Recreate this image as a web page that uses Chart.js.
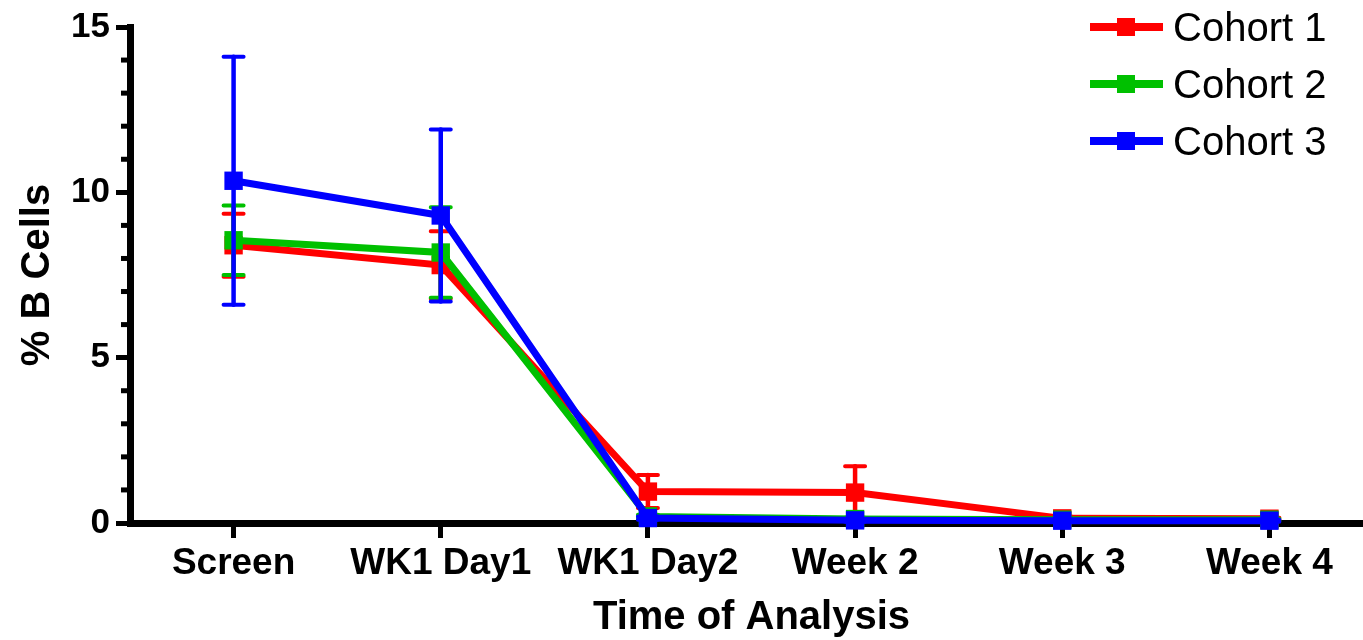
<!DOCTYPE html>
<html>
<head>
<meta charset="utf-8">
<script src="https://cdn.jsdelivr.net/npm/chart.js@4.4.1/dist/chart.umd.min.js"></script>
<style>
    html, body { margin: 0; padding: 0; background: #fff; overflow: hidden; }
    #wrap { position: relative; width: 1386px; height: 640px; }
    #bcellChart { position: absolute; left: 0; top: 0; width: 1386px; height: 640px; }
    .legend { position: absolute; left: 1090px; top: 7px; font-family: "Liberation Sans", Arial, sans-serif; font-size: 40px; color: #000; }
    .legend-row { display: flex; align-items: center; height: 40px; line-height: 40px; margin-bottom: 17px; }
    .legend-line { position: relative; width: 73px; height: 8px; margin-right: 10px; }
    .legend-line span { position: absolute; left: 27px; top: -5px; width: 18px; height: 18px; background: inherit; }
</style>
</head>
<body>
<div id="wrap">
    <canvas id="bcellChart" width="1386" height="640"></canvas>
    <div class="legend" id="legend"></div>
</div>
<script>
// --------- Data ---------
const timepoints = ['Screen', 'WK1 Day1', 'WK1 Day2', 'Week 2', 'Week 3', 'Week 4'];
const cohortNames = ['Cohort 1', 'Cohort 2', 'Cohort 3'];
const cohortColors = ['#ff0000', '#00c000', '#0000ff'];

const cohort1 = [8.4, 7.8, 0.95, 0.92, 0.14, 0.13];
const cohort1Err = [0.95, 1.02, 0.5, 0.8, 0.05, 0.03];
const cohort2 = [8.55, 8.18, 0.2, 0.12, 0.1, 0.1];
const cohort2Err = [1.05, 1.37, 0.05, 0.04, 0.03, 0.03];
const cohort3 = [10.35, 9.3, 0.15, 0.08, 0.07, 0.07];
const cohort3Err = [3.75, 2.6, 0.05, 0.04, 0.03, 0.03];

const yTicksMajor = [0, 5, 10, 15];

const allValues = [cohort1, cohort2, cohort3];
const allErrors = [cohort1Err, cohort2Err, cohort3Err];

const FONT = '"Liberation Sans", Arial, sans-serif';


// --------- Error bars (drawn under each dataset) ---------
const errorBars = {
    id: 'errorBars',
    beforeDatasetDraw(chart, args) {
        const errs = allErrors[args.index];
        const yScale = chart.scales.y;
        const ctx = chart.ctx;
        ctx.save();
        ctx.strokeStyle = cohortColors[args.index];
        ctx.lineCap = 'round';
        args.meta.data.forEach((pt, i) => {
            const v = allValues[args.index][i];
            const top = yScale.getPixelForValue(v + errs[i]);
            const bot = yScale.getPixelForValue(v - errs[i]);
            ctx.lineWidth = 4.5;
            ctx.beginPath();
            ctx.moveTo(pt.x, top);
            ctx.lineTo(pt.x, bot);
            ctx.stroke();
            ctx.lineWidth = 4;
            ctx.beginPath();
            ctx.moveTo(pt.x - 10, top);
            ctx.lineTo(pt.x + 10, top);
            ctx.moveTo(pt.x - 10, bot);
            ctx.lineTo(pt.x + 10, bot);
            ctx.stroke();
        });
        ctx.restore();
    }
};

// --------- Minor ticks on y axis ---------
const minorTicks = {
    id: 'minorTicks',
    afterDraw(chart) {
        const yScale = chart.scales.y;
        const ctx = chart.ctx;
        const x = chart.chartArea.left;
        ctx.save();
        ctx.strokeStyle = '#000';
        ctx.lineWidth = 5;
        yScale.ticks.forEach((t) => {
            if (yTicksMajor.includes(t.value)) return;
            const y = yScale.getPixelForValue(t.value);
            ctx.beginPath();
            ctx.moveTo(x - 9, y);
            ctx.lineTo(x, y);
            ctx.stroke();
        });
        ctx.restore();
    }
};


// --------- Chart ---------
const datasets = allValues.map((vals, i) => ({
    label: cohortNames[i],
    data: vals,
    borderColor: cohortColors[i],
    backgroundColor: cohortColors[i],
    borderWidth: 7,
    pointStyle: 'rect',
    pointRadius: 13,
    pointBorderWidth: 0,
    pointHoverRadius: 13,
    tension: 0,
    clip: false,
    order: 3 - i
}));

new Chart(document.getElementById('bcellChart'), {
    type: 'line',
    data: { labels: timepoints, datasets: datasets },
    options: {
        responsive: false,
        animation: false,
        layout: { padding: { top: 25, left: 0, right: 0, bottom: 0 } },
        plugins: {
            legend: { display: false },
            tooltip: { enabled: false }
        },
        scales: {
            x: {
                offset: true,
                z: 1,
                afterFit: (scale) => { scale.height = 117; },
                grid: {
                    offset: false,
                    drawOnChartArea: false,
                    tickLength: 15,
                    tickWidth: 5,
                    tickColor: '#000'
                },
                border: { color: '#000', width: 7 },
                ticks: {
                    color: '#000',
                    padding: 4,
                    font: { family: FONT, size: 37, weight: 'bold' }
                },
                title: {
                    display: true,
                    text: 'Time of Analysis',
                    color: '#000',
                    padding: { top: 0, bottom: 1 },
                    font: { family: FONT, size: 40, weight: 'bold', lineHeight: 1.05 }
                }
            },
            y: {
                min: 0,
                max: 15,
                z: 1,
                afterFit: (scale) => { scale.width = 130; },
                grid: {
                    drawOnChartArea: false,
                    tickLength: 14,
                    tickWidth: 5,
                    tickColor: (c) => (c.tick && yTicksMajor.includes(c.tick.value)) ? '#000' : 'rgba(0,0,0,0)'
                },
                border: { color: '#000', width: 7 },
                ticks: {
                    stepSize: 1,
                    autoSkip: false,
                    color: '#000',
                    padding: 6,
                    font: { family: FONT, size: 35, weight: 'bold' },
                    callback: (v) => yTicksMajor.includes(v) ? v : ''
                },
                title: {
                    display: true,
                    text: '% B Cells',
                    color: '#000',
                    padding: { top: 14, bottom: 0 },
                    font: { family: FONT, size: 40, weight: 'bold' }
                }
            }
        }
    },
    plugins: [errorBars, minorTicks]
});


// --------- Legend ---------
const legendEl = document.getElementById('legend');
cohortNames.forEach((name, i) => {
    const row = document.createElement('div');
    row.className = 'legend-row';
    const line = document.createElement('div');
    line.className = 'legend-line';
    line.style.background = cohortColors[i];
    line.appendChild(document.createElement('span'));
    const text = document.createElement('div');
    text.textContent = name;
    row.appendChild(line);
    row.appendChild(text);
    legendEl.appendChild(row);
});
</script>
</body>
</html>
